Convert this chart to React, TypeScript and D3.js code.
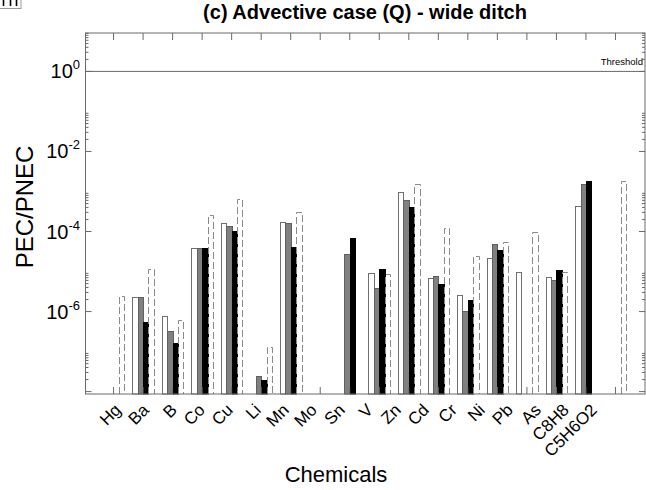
import React from "react";
import { scaleLinear, scaleLog, range } from "d3";

// chemicals along the x axis
const categories = ["Hg", "Ba", "B", "Co", "Cu", "Li", "Mn", "Mo", "Sn", "V", "Zn", "Cd", "Cr", "Ni", "Pb", "As", "C8H8", "C5H6O2"];

// PEC/PNEC per chemical, four cases (null = not shown)
const whiteBars = [null, 2.3e-6, 7.8e-7, 3.8e-5, 1.6e-4, null, 1.7e-4, null, null, 9.1e-6, 9.6e-4, 6.7e-6, 2.6e-6, 2.2e-5, 1.0e-5, 7.2e-6, 4.4e-4, null];
const grayBars = [null, 2.3e-6, 3.2e-7, 3.8e-5, 1.4e-4, 2.5e-8, 1.65e-4, null, 2.7e-5, 3.8e-6, 6.1e-4, 7.6e-6, 1.02e-6, 4.9e-5, null, 6.2e-6, 1.55e-3, null];
const blackBars = [null, 5.6e-7, 1.6e-7, 3.8e-5, 1.04e-4, 2.0e-8, 4.2e-5, null, 6.9e-5, 1.17e-5, 4.2e-4, 4.8e-6, 2.0e-6, 3.5e-5, null, 1.07e-5, 1.78e-3, null];
const dashedBars = [2.4e-6, 1.15e-5, 6.0e-7, 2.6e-4, 6.5e-4, 1.3e-7, 3.1e-4, null, null, 8.6e-6, 1.56e-3, 1.2e-4, 2.5e-5, 5.6e-5, 9.6e-5, 1.0e-5, null, 1.85e-3];

// major ticks every two decades, labelled ones
const yMajorExps = [0, -2, -4, -6];
const yTickExps = [0, -2, -4, -6, -8];
const threshold = 1;

const W = 646;
const H = 490;
const left = 85.5;
const right = 645;
const top = 33;
const bottom = 394;

const x = scaleLinear().domain([-0.95, 18]).range([left, right]);
const y = scaleLog().domain([Math.pow(10, -8.06), Math.pow(10, 0.96)]).range([bottom, top]);
// label ends are spaced a bit tighter than the ticks
const xLab = scaleLinear().domain([0, 17]).range([122, 598]);

const barW = 0.183;
const axisColor = "#6a6a6a";
const font = "Liberation Sans, Arial, Helvetica, sans-serif";

const series = [
  { values: whiteBars, fill: "#ffffff", stroke: "#707070", dash: null },
  { values: grayBars, fill: "#808080", stroke: "#606060", dash: null },
  { values: blackBars, fill: "#000000", stroke: "#000000", dash: null },
  { values: dashedBars, fill: "none", stroke: "#8a8a8a", dash: "7,3" },
];

// minor ticks: 2..9 times each major tick value
function minorTicks() {
  const out: number[] = [];
  yTickExps.forEach((e) => {
    range(2, 10).forEach((m) => {
      const v = m * Math.pow(10, e);
      if (y(v) >= top && y(v) <= bottom) out.push(v);
    });
  });
  return out;
}

export default function App() {
  const minors = minorTicks();
  return (
    <svg width={W} height={H} style={{ position: "absolute", left: 0, top: 0, background: "#fff" }} fontFamily={font}>
      {/* leftover corner box from the source figure */}
      <rect x={-1} y={-12} width={22} height={20.5} fill="#fff" stroke="#999" />
      {[3.5, 10.5, 16.5].map((px) => (
        <line key={px} x1={px} x2={px} y1={0} y2={6} stroke="#000" strokeWidth={1.6} />
      ))}

      <text x={365} y={19} textAnchor="middle" fontSize={20} fontWeight="bold">(c) Advective case (Q) - wide ditch</text>

      {/* bars */}
      {series.map((s, k) => (
        <g key={k}>
          {s.values.map((v, i) => {
            if (v == null) return null;
            const x0 = Math.round(x(i + (k - 2) * barW)) + 0.5;
            const x1 = Math.round(x(i + (k - 1) * barW)) + 0.5;
            const yt = Math.round(y(v)) + 0.5;
            if (s.dash) {
              return (
                <path key={i} d={`M${x0},${bottom}V${yt}H${x1}V${bottom}`} fill="none" stroke={s.stroke} strokeDasharray={s.dash} />
              );
            }
            return <rect key={i} x={x0} y={yt} width={x1 - x0} height={bottom - yt} fill={s.fill} stroke={s.stroke} />;
          })}
        </g>
      ))}

      {/* threshold */}
      <line x1={left} x2={right} y1={y(threshold)} y2={y(threshold)} stroke={axisColor} />
      <text x={643} y={65} textAnchor="end" fontSize={9.5}>Threshold</text>

      {/* frame */}
      <rect x={left} y={top} width={right - left} height={bottom - top} fill="none" stroke={axisColor} />

      {/* x ticks */}
      {categories.map((c, i) => (
        <g key={c}>
          <line x1={x(i)} x2={x(i)} y1={top} y2={top + 7} stroke={axisColor} />
          <line x1={x(i)} x2={x(i)} y1={bottom} y2={bottom - 7} stroke={axisColor} />
          <text transform={`translate(${xLab(i)},${411}) rotate(-45)`} textAnchor="end" fontSize={17}>{c}</text>
        </g>
      ))}

      {/* y ticks */}
      {minors.map((v, i) => (
        <g key={i}>
          <line x1={left} x2={left + 3} y1={y(v)} y2={y(v)} stroke={axisColor} />
          <line x1={right} x2={right - 3} y1={y(v)} y2={y(v)} stroke={axisColor} />
        </g>
      ))}
      {yTickExps.map((e) => (
        <g key={e}>
          <line x1={left} x2={left + 6} y1={y(Math.pow(10, e))} y2={y(Math.pow(10, e))} stroke={axisColor} />
          <line x1={right} x2={right - 6} y1={y(Math.pow(10, e))} y2={y(Math.pow(10, e))} stroke={axisColor} />
        </g>
      ))}
      {yMajorExps.map((e) => (
        <text key={e} x={80} y={y(Math.pow(10, e)) + 7} textAnchor="end" fontSize={20}>
          10<tspan fontSize={13} dy={-9}>{e}</tspan>
        </text>
      ))}

      <text transform={`translate(33,${207}) rotate(-90)`} textAnchor="middle" fontSize={24}>PEC/PNEC</text>
      <text x={336} y={482} textAnchor="middle" fontSize={22}>Chemicals</text>
    </svg>
  );
}
